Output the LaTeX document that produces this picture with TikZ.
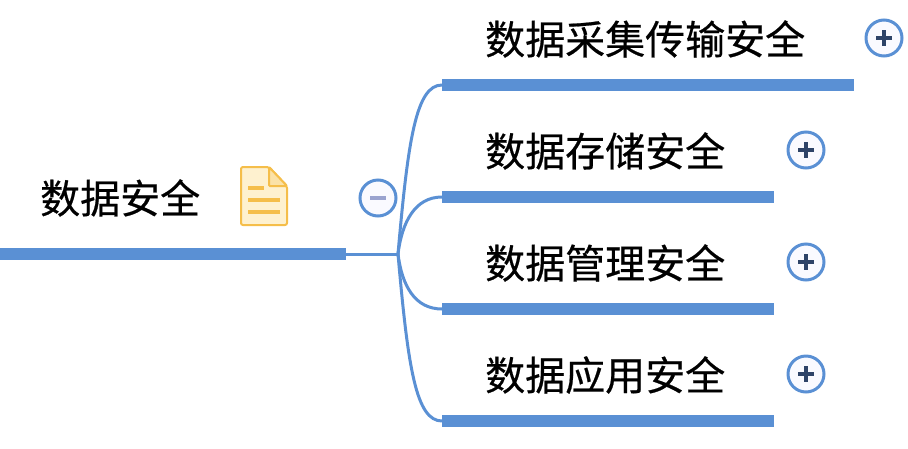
\documentclass[tikz,border=0pt]{standalone}
\usepackage{fontspec}
\newfontfamily\cjk[FakeBold=0.5]{Noto Sans CJK SC}
\definecolor{barblue}{HTML}{5A90D4}
\definecolor{signdark}{HTML}{2F4468}
\definecolor{signgrey}{HTML}{9AA3CF}
\definecolor{noteline}{HTML}{F5BE4A}
\definecolor{notefill}{HTML}{FEF1CF}
\tikzset{
	topic/.style={inner sep=0pt,anchor=west,font=\cjk\fontsize{40}{40}\selectfont,text=black},
	bar/.style={barblue,line width=12pt},
	branch/.style={barblue,line width=3pt},
	toggle/.style={circle,draw=barblue,line width=3pt,fill=blue!2,minimum size=36pt,inner sep=0pt},
}
\begin{document}
\begin{tikzpicture}[x=1pt,y=-1pt]
	\useasboundingbox (0,0) rectangle (908,448);
	\coordinate (rootL) at (0,254);
	\coordinate (rootR) at (346,254);
	\coordinate (fork) at (398,254);
	\coordinate (aL) at (442,85);
	\coordinate (aR) at (854,85);
	\coordinate (bL) at (442,197);
	\coordinate (bR) at (774,197);
	\coordinate (cL) at (442,309);
	\coordinate (cR) at (774,309);
	\coordinate (dL) at (442,421);
	\coordinate (dR) at (774,421);
	\draw[branch](rootR)--(fork);
	\draw[branch](fork) .. controls (408,140) and (416,85) .. (aL);
	\draw[branch](fork) .. controls (402,222) and (415,197) .. (bL);
	\draw[branch](fork) .. controls (402,286) and (415,309) .. (cL);
	\draw[branch](fork) .. controls (408,368) and (416,421) .. (dL);
	\draw[bar](rootL)--(rootR);
	\draw[bar](aL)--(aR);
	\draw[bar](bL)--(bR);
	\draw[bar](cL)--(cR);
	\draw[bar](dL)--(dR);
	\node[topic](root) at (40,198){数据安全};
	\node[topic](collect) at (485,39){数据采集传输安全};
	\node[topic](store) at (485,151){数据存储安全};
	\node[topic](manage) at (485,263){数据管理安全};
	\node[topic](apply) at (485,375){数据应用安全};
	\node[toggle](minus) at (378,198){};
	\draw[signgrey,line width=3.5pt](minus.center)+(-8,0)--+(8,0);
	\foreach \name/\px/\py in {plusa/884/38,plusb/806/150,plusc/806/262,plusd/806/374}{
		\node[toggle](\name) at (\px,\py){};
		\draw[signdark,line width=3.5pt](\name.center)+(-8,0)--+(8,0);
		\draw[signdark,line width=3.5pt](\name.center)+(0,-8)--+(0,8);
	}
	% note icon
	\filldraw[draw=noteline,fill=notefill,line width=2pt,rounded corners=2pt](241,167)--(269,167)--(287,186)--(287,225)--(241,225)--cycle;
	\filldraw[draw=noteline,fill=notefill!70!noteline,line width=2pt,rounded corners=1pt](269,167)--(269,186)--(287,186)--cycle;
	\draw[noteline,line width=3.5pt](248,188)--(264,188);
	\draw[noteline,line width=3.5pt](248,200)--(280,200);
	\draw[noteline,line width=3.5pt](248,212)--(280,212);
\end{tikzpicture}
\end{document}
